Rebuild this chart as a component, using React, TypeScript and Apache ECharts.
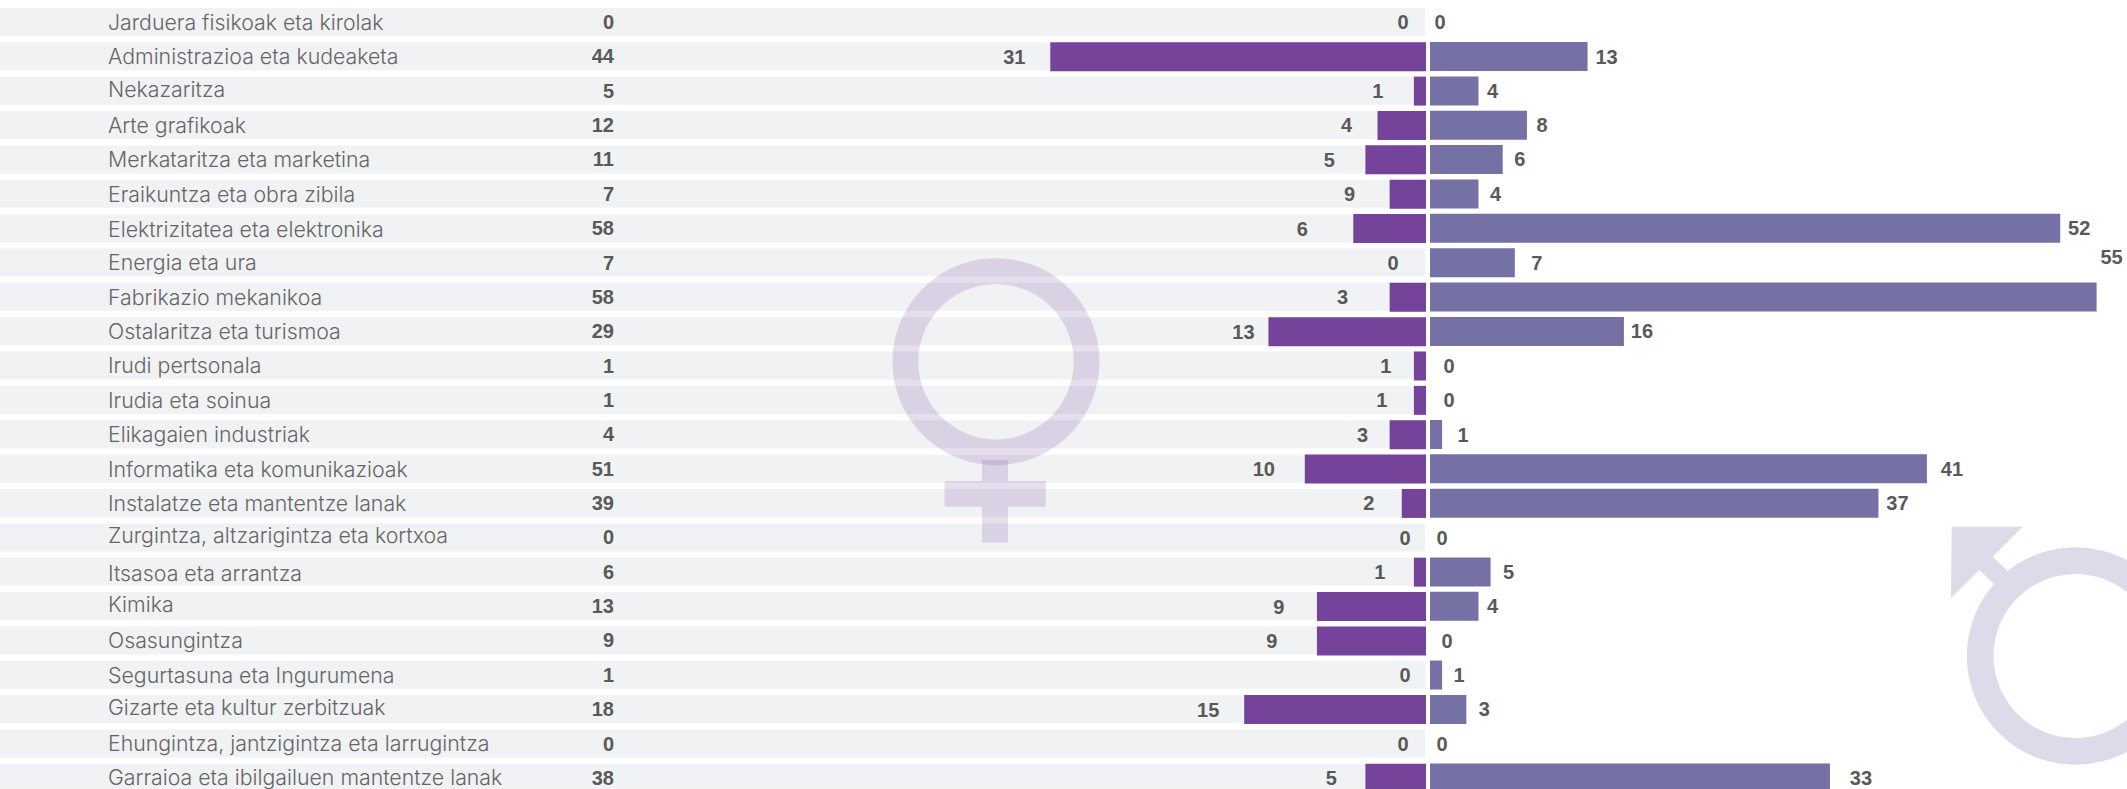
import React, { useEffect, useRef } from "react";
import * as echarts from "echarts";

const categories = [
  "Jarduera fisikoak eta kirolak", "Administrazioa eta kudeaketa", "Nekazaritza", "Arte grafikoak",
  "Merkataritza eta marketina", "Eraikuntza eta obra zibila", "Elektrizitatea eta elektronika", "Energia eta ura",
  "Fabrikazio mekanikoa", "Ostalaritza eta turismoa", "Irudi pertsonala", "Irudia eta soinua",
  "Elikagaien industriak", "Informatika eta komunikazioak", "Instalatze eta mantentze lanak",
  "Zurgintza, altzarigintza eta kortxoa", "Itsasoa eta arrantza", "Kimika", "Osasungintza",
  "Segurtasuna eta Ingurumena", "Gizarte eta kultur zerbitzuak", "Ehungintza, jantzigintza eta larrugintza",
  "Garraioa eta ibilgailuen mantentze lanak",
];
const totals = [0, 44, 5, 12, 11, 7, 58, 7, 58, 29, 1, 1, 4, 51, 39, 0, 6, 13, 9, 1, 18, 0, 38];
const women = [0, 31, 1, 4, 5, 3, 6, 0, 3, 13, 1, 1, 3, 10, 2, 0, 1, 9, 9, 0, 15, 0, 5];
const womenShown = [0, 31, 1, 4, 5, 9, 6, 0, 3, 13, 1, 1, 3, 10, 2, 0, 1, 9, 9, 0, 15, 0, 5];
const men = [0, 13, 4, 8, 6, 4, 52, 7, 55, 16, 0, 0, 1, 41, 37, 0, 5, 4, 0, 1, 3, 0, 33];

// label placement, px from the end of each bar to the centre of its number
const womenGap = [23, 36, 36, 31, 36, 40, 51, 33, 47, 25, 28, 32, 27, 41, 33, 21, 34, 38, 45, 21, 36, 23, 34];
const menGap = [10, 19, 14, 15, 17, 17, 19, 22, 15, 18, 19, 19, 21, 25, 19, 12, 18, 14, 17, 17, 18, 12, 31];
const menRise = [0, 0, 0, 0, -1, 0, 0, 0, -40, 0, 0, 0, 0, 0, 0, 0, 0, 0, 0, 0, 0, 0, 0];
const nameRise = [0, 0, -2, 0, 0, 0, 1, -1, 0, 0, -1, 0, 0, 0, 0, -2, 1, -2, 0, 0, -2, -1, -1];

const BAND_TOP = 4.8;
const GRID_H = 790.3;
const PX_PER_UNIT = 12.12;
const bandMax = 60;

const TEXT = "#595959";
const valueFont = { fontFamily: "Liberation Sans", fontWeight: 700 as const, fontSize: 20, color: TEXT };

const vPoly = (pts: number[][], fill: string, z = 1) => ({ type: "polygon", z, shape: { points: pts }, style: { fill } });

export default function App() {
  const ref = useRef<HTMLDivElement>(null);
  useEffect(() => {
    document.body.style.margin = "0";
    document.body.style.overflow = "hidden";
    const chart = echarts.init(ref.current!, undefined, { renderer: "svg" });
    const venus = "rgba(117,67,154,0.18)";
    const mars = "#dddbe9";
    const hiddenX = { show: false, splitLine: { show: false } };
    const yBase = { type: "category" as const, data: categories, inverse: true, show: false };
    chart.setOption({
      animation: false,
      backgroundColor: "#ffffff",
      grid: [
        { left: 0, width: 1425, top: BAND_TOP, height: GRID_H },
        { left: 0, width: 1426, top: BAND_TOP + 0.4, height: GRID_H },
        { left: 1430, width: 697, top: BAND_TOP + 0.2, height: GRID_H },
      ],
      xAxis: [
        { ...hiddenX, type: "value", gridIndex: 0, min: 0, max: bandMax },
        { ...hiddenX, type: "value", gridIndex: 1, min: -1426 / PX_PER_UNIT, max: 0 },
        { ...hiddenX, type: "value", gridIndex: 2, min: 0, max: 697 / PX_PER_UNIT },
      ],
      yAxis: [
        { ...yBase, gridIndex: 0 },
        { ...yBase, gridIndex: 1 },
        { ...yBase, gridIndex: 2 },
      ],
      graphic: [
        { type: "ring", z: 10, shape: { cx: 996, cy: 361.7, r: 103.5, r0: 77.7 }, style: { fill: venus } },
        vPoly([[982, 460], [1008, 460], [1008, 481], [1045.7, 481], [1045.7, 506.7], [1008, 506.7], [1008, 542.7], [982, 542.7], [982, 506.7], [944.7, 506.7], [944.7, 481], [982, 481]], venus, 10),
        { type: "ring", z: 1, shape: { cx: 2075.5, cy: 656, r: 108.7, r0: 82 }, style: { fill: mars } },
        vPoly([[1951.7, 526.7], [2022.7, 526.7], [1992.7, 556.7], [2012, 575], [1998, 588], [1979.3, 570], [1951, 598]], mars, 1),
      ],
      series: [
        {
          name: "Bands",
          type: "bar",
          xAxisIndex: 0,
          yAxisIndex: 0,
          barWidth: 28,
          barGap: "-100%",
          itemStyle: { color: "#f1f2f4" },
          data: categories.map((c, i) => ({
            value: bandMax,
            label: {
              show: true,
              formatter: c,
              position: [108, "50%"],
              align: "left",
              verticalAlign: "middle",
              offset: [0, nameRise[i]],
              fontFamily: "Inter",
              fontWeight: 300,
              fontSize: 21.3,
              color: "#666666",
            },
          })),
        },
        {
          name: "Guztira",
          type: "bar",
          xAxisIndex: 0,
          yAxisIndex: 0,
          barWidth: 28,
          barGap: "-100%",
          itemStyle: { color: "transparent" },
          data: totals.map((v) => ({
            value: v,
            label: {
              show: true,
              formatter: String(v),
              position: [614, "50%"],
              align: "right",
              verticalAlign: "middle",
              ...valueFont,
            },
          })),
        },
        {
          name: "Emakumeak",
          type: "bar",
          xAxisIndex: 1,
          yAxisIndex: 1,
          barWidth: 29,
          itemStyle: { color: "#75439a" },
          data: women.map((v, i) => ({
            value: -v,
            label: {
              show: true,
              formatter: String(womenShown[i]),
              position: "left",
              distance: 0,
              align: "center",
              offset: [-womenGap[i], 0],
              ...valueFont,
            },
          })),
        },
        {
          name: "Gizonak",
          type: "bar",
          xAxisIndex: 2,
          yAxisIndex: 2,
          barWidth: 29,
          itemStyle: { color: "#7571a5" },
          data: men.map((v, i) => ({
            value: v,
            label: {
              show: true,
              formatter: String(v),
              position: "right",
              distance: 0,
              align: "center",
              offset: [menGap[i], menRise[i]],
              ...valueFont,
            },
          })),
        },
      ],
    });
    return () => chart.dispose();
  }, []);
  return (
    <div style={{ width: 2127, height: 789, overflow: "hidden" }}>
      <div ref={ref} style={{ width: 2127, height: 840 }} />
    </div>
  );
}
